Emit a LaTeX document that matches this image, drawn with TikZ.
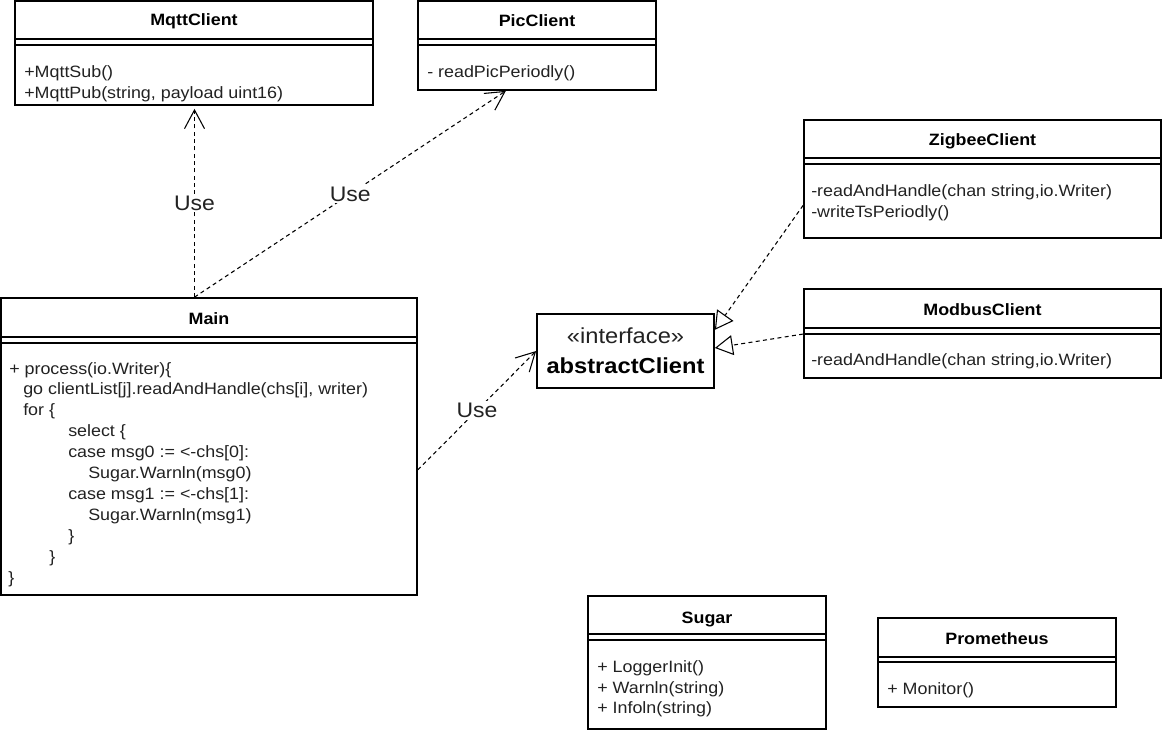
\documentclass[tikz,border=0pt]{standalone}
\usepackage{fontspec}
\setmainfont{Liberation Sans}[FakeStretch=1.09]
\usetikzlibrary{arrows.meta,fit,calc}
\definecolor{txtgray}{RGB}{34,34,34}
\begin{document}
\begin{tikzpicture}[x=0.75pt,y=-0.75pt,
  cls/.style={draw=black, line width=1.3pt, inner sep=0pt, fill=white},
  sepline/.style={draw=black, line width=1.2pt},
  body/.style={font=\fontsize{12.3}{15.7}\selectfont, text=txtgray, inner sep=0pt, anchor=base west},
  ttl/.style={font=\fontsize{12.3}{15.7}\selectfont\bfseries, inner sep=0pt, anchor=base},
  uselbl/.style={font=\fontsize{15.8}{19}\selectfont, text=txtgray, fill=white, inner sep=1.5pt},
  conn/.style={draw=black, line width=0.8pt, dash pattern=on 3pt off 2.5pt},
  usearrow/.style={conn, -{Straight Barb[length=14pt,width=15pt]}},
  realize/.style={conn, -{Triangle[open,length=13.5pt,width=15pt]}}
]
\useasboundingbox (0,0) rectangle (1162,735);
\fill[white] (0,0) rectangle (1162,735);

% MqttClient
\node[cls, fit={(15,1)(373,105)}] (mqtt) {};
\draw[sepline] (15,39) -- (373,39) (15,45) -- (373,45);
\node[ttl] (mqttT) at (194,26) {MqttClient};
\node[body] (mqttB1) at (24,78) {+MqttSub()};
\node[body] (mqttB2) at (24,98.5) {+MqttPub(string, payload uint16)};

% PicClient
\node[cls, fit={(418,1)(656,90)}] (pic) {};
\draw[sepline] (418,39) -- (656,39) (418,45) -- (656,45);
\node[ttl] (picT) at (537,26.5) {PicClient};
\node[body] (picB1) at (427,78) {- readPicPeriodly()};

% Main
\node[cls, fit={(1,298)(417,595)}] (main) {};
\draw[sepline] (1,337) -- (417,337) (1,343) -- (417,343);
\node[ttl] (mainT) at (209,324) {Main};
\node[body] (m1) at (9,374) {+ process(io.Writer)\{};
\node[body] (m2) at (23,394.9) {go clientList[j].readAndHandle(chs[i], writer)};
\node[body] (m3) at (23,415.8) {for \{};
\node[body] (m4) at (68,436.7) {select \{};
\node[body] (m5) at (68,457.6) {case msg0 := <-chs[0]:};
\node[body] (m6) at (88,478.5) {Sugar.Warnln(msg0)};
\node[body] (m7) at (68,499.4) {case msg1 := <-chs[1]:};
\node[body] (m8) at (88,520.3) {Sugar.Warnln(msg1)};
\node[body] (m9) at (68,541.2) {\}};
\node[body] (m10) at (49,562.1) {\}};
\node[body] (m11) at (8,583) {\}};

% abstractClient
\node[cls, fit={(537,314)(714,388)}] (abstract) {};
\node[font=\fontsize{16.3}{19}\selectfont, text=txtgray, inner sep=0pt, anchor=base] (absI) at (625.5,343) {«interface»};
\node[font=\fontsize{16.3}{19}\selectfont\bfseries, inner sep=0pt, anchor=base] (absN) at (625.5,373) {abstractClient};

% ZigbeeClient
\node[cls, fit={(804,120)(1161,238)}] (zig) {};
\draw[sepline] (804,158) -- (1161,158) (804,164) -- (1161,164);
\node[ttl] (zigT) at (982.5,145) {ZigbeeClient};
\node[body] (zigB1) at (811,196) {-readAndHandle(chan string,io.Writer)};
\node[body] (zigB2) at (811,217) {-writeTsPeriodly()};

% ModbusClient
\node[cls, fit={(804,289)(1161,378)}] (mod) {};
\draw[sepline] (804,328) -- (1161,328) (804,334) -- (1161,334);
\node[ttl] (modT) at (982.5,315) {ModbusClient};
\node[body] (modB1) at (811,365) {-readAndHandle(chan string,io.Writer)};

% Sugar
\node[cls, fit={(588,596)(826,729)}] (sugar) {};
\draw[sepline] (588,634) -- (826,634) (588,640) -- (826,640);
\node[ttl] (sugarT) at (707,623) {Sugar};
\node[body] (sugarB1) at (597,672.5) {+ LoggerInit()};
\node[body] (sugarB2) at (597,693) {+ Warnln(string)};
\node[body] (sugarB3) at (597,713.5) {+ Infoln(string)};

% Prometheus
\node[cls, fit={(878,618)(1116,707)}] (prom) {};
\draw[sepline] (878,657) -- (1116,657) (878,662) -- (1116,662);
\node[ttl] (promT) at (997,644) {Prometheus};
\node[body] (promB1) at (887,694) {+ Monitor()};

% connectors
\coordinate (mainTop) at ([xshift=0.375pt]mqtt.south |- main.north);
\coordinate (mqttIn) at ([xshift=0.375pt,yshift=-2.25pt]mqtt.south);
\coordinate (picIn) at ($(pic.south west)!0.37!(pic.south east)$);
\coordinate (mainOut) at ($(main.north east)!0.578!(main.south east)$);
\coordinate (zigOut) at ($(zig.north west)!0.72!(zig.south west)$);
\coordinate (modOut) at ($(mod.north west)!0.506!(mod.south west)$);
\coordinate (absIn1) at ($(abstract.north east)!0.22!(abstract.south east)$);
\coordinate (absIn2) at ($(abstract.north east)!0.46!(abstract.south east)$);

\draw[usearrow] (mainTop) -- node[uselbl] (use1) {Use} (mqttIn);
\draw[usearrow] (mainTop) -- node[uselbl] (use2) {Use} (picIn);
\draw[usearrow] (mainOut) -- node[uselbl] (use3) {Use} (abstract.west);
\draw[realize] (zigOut) -- (absIn1);
\draw[realize] (modOut) -- (absIn2);
\end{tikzpicture}
\end{document}
